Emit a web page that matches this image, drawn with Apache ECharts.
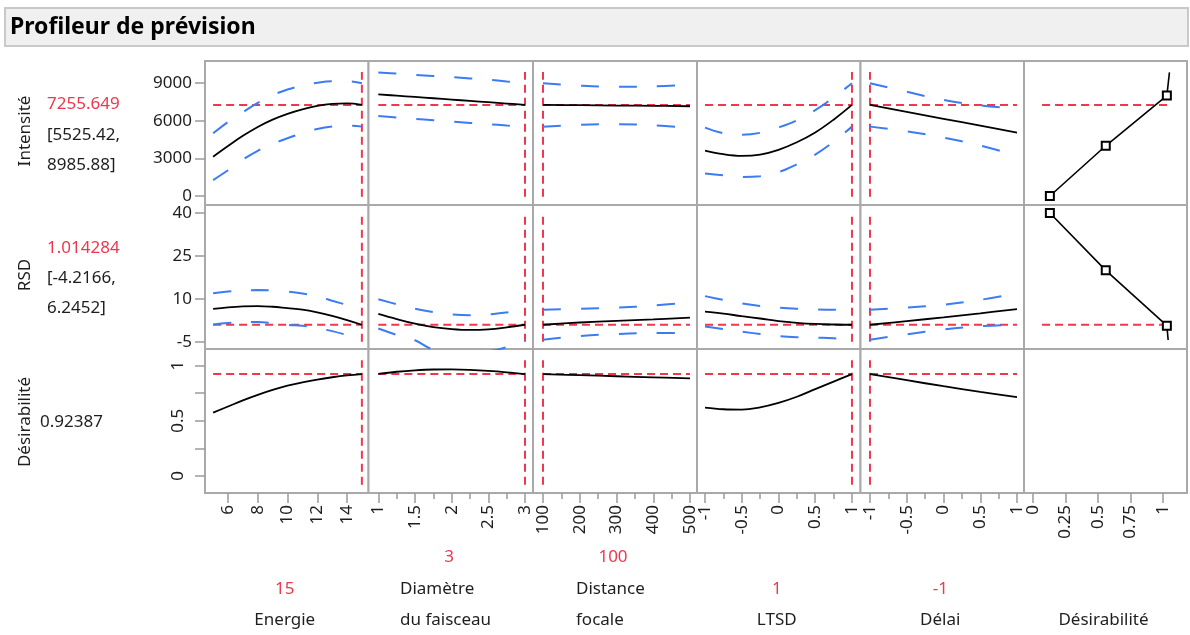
<!DOCTYPE html>
<html><head><meta charset="utf-8">
<script src="https://cdn.jsdelivr.net/npm/echarts@6/dist/echarts.min.js"></script>
<style>html,body{margin:0;padding:0;background:#fff}#c{width:1190px;height:635px}</style>
</head><body><div id="c"></div>
<script>
// ---------------- DATA ----------------
const titleText = 'Profileur de prévision';
const responseNames = ['Intensité', 'RSD', 'Désirabilité'];
const predictedText = ['7255.649', '1.014284', '0.92387'];
const ciText = [['[5525.42,', '8985.88]'], ['[-4.2166,', '6.2452]'], []];
const predictedValues = [7255.649, 1.014284, 0.92387];
const factorNames = [['Energie'], ['Diamètre', 'du faisceau'], ['Distance', 'focale'], ['LTSD'], ['Délai'], ['Désirabilité']];
const factorCurrentText = ['15', '3', '100', '1', '-1', ''];
const factorCurrent = [15, 3, 100, 1, -1];

// tick values
const yTicksInt = [0, 3000, 6000, 9000];
const yTicksRsd = [-5, 10, 25, 40];
const yTicksDes = [0, 0.25, 0.5, 0.75, 1];
const yLabelsDes = [0, 0.5, 1];
const xTicksEnergie = [6, 8, 10, 12, 14];
const xTicksDiam = [1, 1.5, 2, 2.5, 3];
const xMinorDiam = [1.25, 1.75, 2.25, 2.75];
const xTicksDist = [100, 200, 300, 400, 500];
const xMinorDist = [150, 250, 350, 450];
const xTicksLTSD = [-1, -0.5, 0, 0.5, 1];
const xMinorLTSD = [-0.75, -0.25, 0.25, 0.75];
const xTicksDelai = [-1, -0.5, 0, 0.5, 1];
const xMinorDelai = [-0.75, -0.25, 0.25, 0.75];
const xTicksDes = [0, 0.25, 0.5, 0.75, 1];

// factor grids
const energieX = [5, 6, 7, 8, 9, 10, 11, 12, 13, 14, 15];
const diamX = [1, 1.25, 1.5, 1.75, 2, 2.25, 2.5, 2.75, 3];
const distX = [100, 200, 300, 400, 500];
const ltsdX = [-1, -0.75, -0.5, -0.25, 0, 0.25, 0.5, 0.75, 1];
const delaiX = [-1, -0.5, 0, 0.5, 1];

// Intensité
const intPredEnergie = [3130, 3980, 4790, 5500, 6080, 6540, 6900, 7170, 7330, 7370, 7256];
const intUpEnergie = [4990, 5900, 6680, 7420, 8030, 8480, 8800, 9020, 9140, 9150, 8986];
const intLoEnergie = [1270, 2050, 2900, 3600, 4150, 4600, 5000, 5330, 5530, 5600, 5525];
const intPredDiam = [8090, 7990, 7890, 7785, 7680, 7575, 7470, 7365, 7256];
const intUpDiam = [9840, 9745, 9650, 9560, 9470, 9365, 9260, 9125, 8986];
const intLoDiam = [6370, 6255, 6140, 6030, 5920, 5820, 5720, 5620, 5525];
const intPredDist = [7256, 7230, 7205, 7180, 7150];
const intUpDist = [8986, 8790, 8700, 8730, 8870];
const intLoDist = [5525, 5670, 5710, 5630, 5430];
const intPredLTSD = [3620, 3330, 3200, 3300, 3680, 4280, 5060, 6080, 7256];
const intUpLTSD = [5450, 5000, 4880, 5030, 5460, 6030, 6840, 7850, 8986];
const intLoLTSD = [1800, 1640, 1520, 1570, 1900, 2530, 3300, 4320, 5525];
const intPredDelai = [7256, 6700, 6150, 5600, 5050];
const intUpDelai = [8986, 8300, 7650, 7220, 6950];
const intLoDelai = [5525, 5150, 4650, 4020, 3200];

// RSD
const rsdPredEnergie = [6.55, 7.1, 7.45, 7.55, 7.3, 6.8, 6.3, 5.35, 4.1, 2.65, 1.014];
const rsdUpEnergie = [12.0, 12.6, 13.0, 13.1, 13.0, 12.6, 11.9, 10.9, 9.4, 7.9, 6.25];
const rsdLoEnergie = [1.1, 1.6, 1.9, 2.0, 1.6, 1.0, 0.7, -0.2, -1.2, -2.6, -4.22];
const rsdPredDiam = [4.8, 3.0, 1.4, 0.2, -0.5, -0.8, -0.6, 0.1, 1.014];
const rsdUpDiam = [9.9, 8.2, 6.6, 5.4, 4.6, 4.3, 4.6, 5.3, 6.25];
const rsdLoDiam = [-0.3, -2.5, -4.4, -7.6, -8.2, -8.4, -8.2, -6.8, -4.22];
const rsdPredDist = [1.014, 1.8, 2.4, 2.9, 3.5];
const rsdUpDist = [6.25, 6.6, 7.0, 7.7, 8.9];
const rsdLoDist = [-4.22, -2.9, -2.2, -1.9, -1.9];
const rsdPredLTSD = [5.6, 4.9, 4.0, 3.2, 2.3, 1.7, 1.3, 1.1, 1.014];
const rsdUpLTSD = [11.0, 9.7, 8.5, 7.6, 7.0, 6.6, 6.35, 6.25, 6.25];
const rsdLoLTSD = [0.4, -0.5, -1.4, -2.2, -2.9, -3.3, -3.5, -3.7, -4.22];
const rsdPredDelai = [1.014, 2.3, 3.6, 5.0, 6.5];
const rsdUpDelai = [6.25, 7.0, 8.0, 9.7, 12.0];
const rsdLoDelai = [-4.22, -2.3, -0.6, 0.5, 1.1];

// Désirabilité
const desEnergie = [0.575, 0.63, 0.685, 0.735, 0.78, 0.818, 0.848, 0.874, 0.895, 0.912, 0.924];
const desDiam = [0.925, 0.945, 0.958, 0.965, 0.966, 0.962, 0.953, 0.94, 0.924];
const desDist = [0.924, 0.914, 0.904, 0.894, 0.884];
const desLTSD = [0.62, 0.605, 0.602, 0.622, 0.662, 0.718, 0.787, 0.855, 0.924];
const desDelai = [0.924, 0.868, 0.814, 0.763, 0.715];

// desirability functions (x = desirability, y = response)
const desFnX = [0.13, 0.56, 1.03];
const desFnInt = [0, 4000, 8000];
const desFnIntEnd = [1.05, 9850];
const desFnRsd = [40, 20, 0.7];
const desFnRsdEnd = [1.04, -4.3];
const desRefX = [0.07, 1.04];

// reference vertical line extent per row
const refYRange = [[-50, 9870], [-4.9, 39.3], [-0.08, 1.05]];

// ---------------- LAYOUT / STYLE ----------------
const FONT = 'Noto Sans';
const RED = '#f0374e';
const BLUE = '#3c7cf2';
const TXT = '#1e1e1e';
const colEdges = [205, 368.5, 533, 697, 860.5, 1024, 1187];
const rowEdges = [61, 205, 349, 493];
const xRanges = [[4.454, 15.445], [0.866, 3.109], [72.8, 519], [-1.109, 1.116], [-1.129, 1.095], [-0.069, 1.185]];
const yRanges = [[-717, 10752], [-7.44, 42.79], [-0.154, 1.151]];
const xTicks = [xTicksEnergie, xTicksDiam, xTicksDist, xTicksLTSD, xTicksDelai, xTicksDes];
const xMinor = [null, xMinorDiam, xMinorDist, xMinorLTSD, xMinorDelai, null];
const yTicks = [yTicksInt, yTicksRsd, yTicksDes];
const yLabels = [yTicksInt, yTicksRsd, yLabelsDes];

const panels = [
  { x: energieX, rows: [[intPredEnergie, intUpEnergie, intLoEnergie], [rsdPredEnergie, rsdUpEnergie, rsdLoEnergie], [desEnergie]] },
  { x: diamX, rows: [[intPredDiam, intUpDiam, intLoDiam], [rsdPredDiam, rsdUpDiam, rsdLoDiam], [desDiam]] },
  { x: distX, rows: [[intPredDist, intUpDist, intLoDist], [rsdPredDist, rsdUpDist, rsdLoDist], [desDist]] },
  { x: ltsdX, rows: [[intPredLTSD, intUpLTSD, intLoLTSD], [rsdPredLTSD, rsdUpLTSD, rsdLoLTSD], [desLTSD]] },
  { x: delaiX, rows: [[intPredDelai, intUpDelai, intLoDelai], [rsdPredDelai, rsdUpDelai, rsdLoDelai], [desDelai]] }
];

const grids = [], xAxes = [], yAxes = [], series = [];
const fmt = v => String(v);

for (let r = 0; r < 3; r++) {
  for (let c = 0; c < 6; c++) {
    const g = r * 6 + c;
    grids.push({
      left: colEdges[c], top: rowEdges[r],
      width: colEdges[c + 1] - colEdges[c], height: rowEdges[r + 1] - rowEdges[r],
      show: true, borderColor: '#a9a9a9', borderWidth: 2, backgroundColor: '#fff',
      outerBoundsMode: 'none', containLabel: false
    });
    const bottom = r === 2;
    xAxes.push({
      type: 'value', gridIndex: g, min: xRanges[c][0], max: xRanges[c][1], position: 'bottom',
      show: bottom,
      axisLine: { show: false, onZero: false },
      splitLine: { show: false },
      axisTick: { show: true, customValues: xTicks[c], length: 10, lineStyle: { color: '#9a9a9a', width: 1.5 } },
      axisLabel: { show: true, customValues: xTicks[c], rotate: 90, margin: 12, formatter: fmt,
        fontFamily: FONT, fontSize: 17, color: TXT }
    });
    yAxes.push({
      type: 'value', gridIndex: g, min: yRanges[r][0], max: yRanges[r][1], position: 'left',
      show: c === 0,
      axisLine: { show: false, onZero: false },
      splitLine: { show: false },
      axisTick: { show: true, customValues: yTicks[r], length: 10, lineStyle: { color: '#9a9a9a', width: 1.5 } },
      axisLabel: { show: true, customValues: yLabels[r], rotate: r === 2 ? 90 : 0, margin: r === 2 ? 18 : 13,
        formatter: fmt, fontFamily: FONT, fontSize: 17, color: TXT }
    });
  }
}
// minor tick axes on the bottom row
for (let c = 0; c < 6; c++) {
  if (!xMinor[c]) continue;
  xAxes.push({
    type: 'value', gridIndex: 12 + c, min: xRanges[c][0], max: xRanges[c][1], position: 'bottom', offset: 0,
    axisLine: { show: false, onZero: false }, splitLine: { show: false }, axisLabel: { show: false },
    axisTick: { show: true, customValues: xMinor[c], length: 6, lineStyle: { color: '#9a9a9a', width: 1.5 } }
  });
}

function lineSeries(g, data, style, extra) {
  return Object.assign({
    type: 'line', xAxisIndex: g, yAxisIndex: g, data: data, symbol: 'none', silent: true,
    animation: false, lineStyle: style
  }, extra || {});
}
const redStyle = { color: RED, width: 2, type: [8, 5] };
const blueStyle = { color: BLUE, width: 2, type: [18, 20] };
const blackStyle = { color: '#000', width: 1.8 };

panels.forEach((p, c) => {
  const xmin = p.x[0], xmax = p.x[p.x.length - 1];
  p.rows.forEach((rowData, r) => {
    const g = r * 6 + c;
    series.push(lineSeries(g, [[xmin, predictedValues[r]], [xmax, predictedValues[r]]], redStyle, { z: 1 }));
    series.push(lineSeries(g, [[factorCurrent[c], refYRange[r][0]], [factorCurrent[c], refYRange[r][1]]], redStyle, { z: 1 }));
    if (rowData.length === 3) {
      series.push(lineSeries(g, p.x.map((x, i) => [x, rowData[1][i]]), blueStyle, { smooth: 0.4, z: 2 }));
      series.push(lineSeries(g, p.x.map((x, i) => [x, rowData[2][i]]), blueStyle, { smooth: 0.4, z: 2 }));
    }
    series.push(lineSeries(g, p.x.map((x, i) => [x, rowData[0][i]]), blackStyle, { smooth: 0.4, z: 3 }));
  });
});

// desirability function panels (column 6)
[[desFnInt, desFnIntEnd], [desFnRsd, desFnRsdEnd]].forEach((d, r) => {
  const g = r * 6 + 5;
  series.push(lineSeries(g, desRefX.map(x => [x, predictedValues[r]]), redStyle, { z: 1 }));
  const pts = desFnX.map((x, i) => ({ value: [x, d[0][i]] }));
  pts.push({ value: d[1], symbol: 'none' });
  series.push(lineSeries(g, pts, { color: '#000', width: 1.6 }, {
    symbol: 'rect', symbolSize: 8, showSymbol: true, z: 3,
    itemStyle: { color: '#fff', borderColor: '#000', borderWidth: 2 }
  }));
});

// ---------------- TEXT ----------------
const graphic = [];
graphic.push({ type: 'rect', shape: { x: 5, y: 8, width: 1183, height: 38 },
  style: { fill: '#f0f0f0', stroke: '#c9c9c9', lineWidth: 2 }, silent: true });
graphic.push({ type: 'text', x: 10, y: 27, style: { text: titleText, fontFamily: FONT, fontWeight: 'bold',
  fontSize: 23, fill: '#000', verticalAlign: 'middle', align: 'left' } });

const leftNameY = [131, 275, 422];
const leftValueY = [[104, 135, 165], [248, 278, 308], [422]];
responseNames.forEach((name, r) => {
  graphic.push({ type: 'text', x: 25, y: leftNameY[r], rotation: Math.PI / 2,
    style: { text: name, fontFamily: FONT, fontSize: 17, fill: TXT, align: 'center', verticalAlign: 'middle' } });
  const lines = [predictedText[r]].concat(ciText[r]);
  lines.forEach((t, i) => {
    graphic.push({ type: 'text', x: r === 2 ? 40 : 47, y: leftValueY[r][i],
      style: { text: t, fontFamily: FONT, fontSize: 17, fill: (i === 0 && r < 2) ? RED : TXT,
        align: 'left', verticalAlign: 'middle' } });
  });
});

const lineYs = [589, 620];
factorNames.forEach((lines, c) => {
  const cx = (colEdges[c] + colEdges[c + 1]) / 2;
  const multi = lines.length > 1;
  const leftX = [0, 400, 576][c];
  lines.forEach((t, i) => {
    const y = lineYs[lineYs.length - lines.length + i];
    graphic.push({ type: 'text', x: multi ? leftX : cx - 2, y: y,
      style: { text: t, fontFamily: FONT, fontSize: 17, fill: TXT, align: multi ? 'left' : 'center', verticalAlign: 'middle' } });
  });
  if (factorCurrentText[c]) {
    const vy = multi ? 557 : 589;
    const vx = multi ? leftX + 49 + (c === 2 ? -12 : 0) : cx - 2;
    graphic.push({ type: 'text', x: vx, y: vy,
      style: { text: factorCurrentText[c], fontFamily: FONT, fontSize: 17, fill: RED, align: 'center', verticalAlign: 'middle' } });
  }
});

const chart = echarts.init(document.getElementById('c'), null, { renderer: 'canvas' });
chart.setOption({
  animation: false,
  backgroundColor: '#fff',
  grid: grids, xAxis: xAxes, yAxis: yAxes, series: series, graphic: graphic
});
</script>
</body></html>
